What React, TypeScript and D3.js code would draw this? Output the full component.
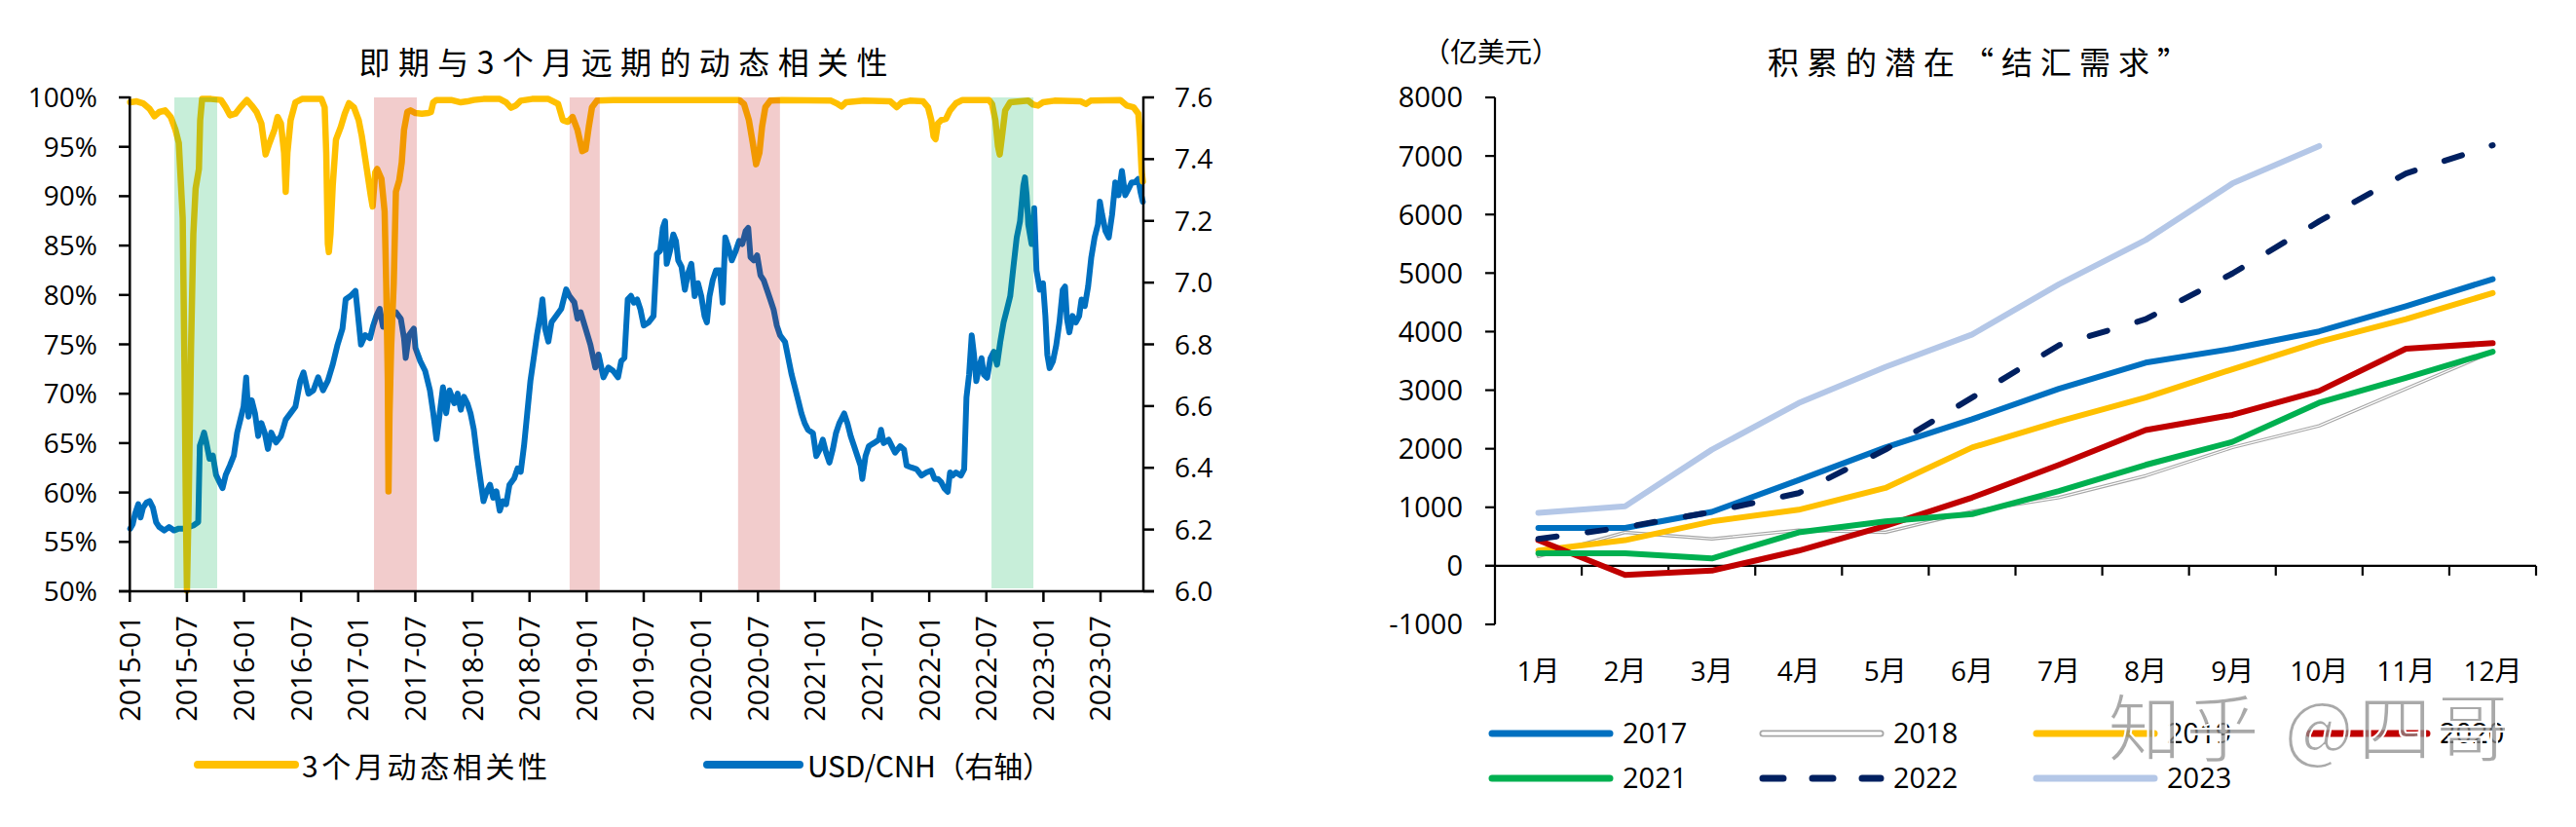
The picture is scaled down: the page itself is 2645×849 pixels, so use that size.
import React from 'react';
import * as d3 from 'd3';

// ---------- Left chart data (decimal year, value) ----------
const corrData: [number, number][] = [
  [2015.003, 99.5], [2015.06, 99.6], [2015.116, 99.4], [2015.173, 98.85], [2015.216, 98.09],
  [2015.258, 98.52], [2015.309, 98.68], [2015.358, 98.02], [2015.4, 96.7], [2015.429, 95.39],
  [2015.463, 87.8], [2015.48, 71.33], [2015.491, 58.14], [2015.5, 50.07], [2015.514, 58.14],
  [2015.536, 74.62], [2015.556, 86.16], [2015.576, 90.77], [2015.605, 92.75], [2015.616, 97.69],
  [2015.633, 99.84], [2015.712, 99.84], [2015.798, 99.74], [2015.84, 99.0], [2015.877, 98.19],
  [2015.925, 98.35], [2015.968, 99.0], [2016.025, 99.74], [2016.067, 99.18], [2016.11, 98.52],
  [2016.152, 97.36], [2016.189, 94.23], [2016.223, 95.39], [2016.266, 96.7], [2016.294, 98.02],
  [2016.323, 97.36], [2016.351, 94.4], [2016.365, 90.44], [2016.38, 94.4], [2016.408, 97.69],
  [2016.45, 99.5], [2016.507, 99.84], [2016.678, 99.84], [2016.706, 99.0], [2016.72, 94.4],
  [2016.734, 85.17], [2016.743, 84.34], [2016.757, 86.16], [2016.777, 91.1], [2016.805, 95.72],
  [2016.848, 97.03], [2016.882, 98.35], [2016.919, 99.41], [2016.962, 99.0], [2017.004, 97.69],
  [2017.032, 96.04], [2017.075, 92.75], [2017.109, 90.11], [2017.126, 88.96], [2017.149, 92.42],
  [2017.166, 92.75], [2017.203, 91.76], [2017.231, 88.46], [2017.245, 81.21], [2017.259, 71.33],
  [2017.265, 60.12], [2017.274, 68.03], [2017.288, 74.62], [2017.311, 81.21], [2017.33, 90.44],
  [2017.359, 91.6], [2017.381, 93.41], [2017.401, 96.7], [2017.43, 98.52], [2017.458, 98.68],
  [2017.501, 98.42], [2017.557, 98.35], [2017.614, 98.42], [2017.637, 98.52], [2017.657, 99.5],
  [2017.685, 99.74], [2017.813, 99.74], [2017.898, 99.5], [2017.955, 99.6], [2018.012, 99.74],
  [2018.097, 99.84], [2018.239, 99.84], [2018.295, 99.5], [2018.338, 98.95], [2018.381, 99.18],
  [2018.423, 99.67], [2018.523, 99.84], [2018.665, 99.84], [2018.75, 99.34], [2018.792, 97.69],
  [2018.835, 97.53], [2018.877, 98.02], [2018.92, 96.7], [2018.962, 94.56], [2018.991, 94.73],
  [2019.019, 97.03], [2019.047, 99.0], [2019.09, 99.67], [2019.232, 99.74], [2019.414, 99.74],
  [2020.335, 99.74], [2020.378, 99.34], [2020.421, 97.69], [2020.455, 95.38], [2020.484, 93.23],
  [2020.513, 94.39], [2020.536, 97.03], [2020.565, 99.01], [2020.608, 99.67], [2020.709, 99.74],
  [2021.14, 99.67], [2021.198, 99.34], [2021.232, 99.08], [2021.27, 99.5], [2021.428, 99.67],
  [2021.658, 99.6], [2021.716, 99.01], [2021.759, 99.5], [2021.831, 99.67], [2021.946, 99.6],
  [2021.989, 99.01], [2022.018, 97.69], [2022.038, 96.04], [2022.055, 95.78], [2022.076, 97.36],
  [2022.104, 97.69], [2022.147, 97.85], [2022.182, 98.68], [2022.234, 99.41], [2022.291, 99.74],
  [2022.522, 99.74], [2022.55, 99.34], [2022.579, 97.69], [2022.602, 95.05], [2022.617, 94.22],
  [2022.637, 96.04], [2022.665, 98.68], [2022.709, 99.5], [2022.867, 99.67], [2022.91, 99.27],
  [2022.953, 99.17], [2022.996, 99.5], [2023.097, 99.67], [2023.327, 99.6], [2023.371, 99.34],
  [2023.414, 99.67], [2023.673, 99.74], [2023.73, 99.17], [2023.788, 99.01], [2023.831, 98.35],
  [2023.845, 96.04], [2023.86, 92.5], [2023.87, 91.5],
];

const cnhData: [number, number][] = [
  [2015.003, 6.203], [2015.026, 6.218], [2015.045, 6.25], [2015.074, 6.282], [2015.094, 6.239],
  [2015.116, 6.271], [2015.145, 6.287], [2015.173, 6.292], [2015.202, 6.271], [2015.23, 6.224],
  [2015.258, 6.208], [2015.301, 6.197], [2015.343, 6.208], [2015.386, 6.197], [2015.429, 6.203],
  [2015.471, 6.203], [2015.514, 6.208], [2015.556, 6.213], [2015.599, 6.224], [2015.613, 6.472],
  [2015.633, 6.493], [2015.65, 6.514], [2015.67, 6.482], [2015.698, 6.429], [2015.727, 6.44],
  [2015.755, 6.377], [2015.783, 6.355], [2015.812, 6.334], [2015.84, 6.377], [2015.877, 6.408],
  [2015.911, 6.44], [2015.94, 6.514], [2015.968, 6.556], [2015.996, 6.598], [2016.019, 6.693],
  [2016.039, 6.566], [2016.067, 6.619], [2016.096, 6.577], [2016.124, 6.503], [2016.152, 6.545],
  [2016.181, 6.514], [2016.209, 6.461], [2016.238, 6.514], [2016.28, 6.482], [2016.323, 6.503],
  [2016.365, 6.556], [2016.408, 6.577], [2016.45, 6.598], [2016.493, 6.682], [2016.521, 6.709],
  [2016.564, 6.64], [2016.607, 6.651], [2016.649, 6.693], [2016.692, 6.651], [2016.734, 6.682],
  [2016.777, 6.735], [2016.819, 6.799], [2016.862, 6.851], [2016.89, 6.946], [2016.933, 6.957],
  [2016.976, 6.973], [2017.004, 6.872], [2017.024, 6.799], [2017.061, 6.83], [2017.103, 6.82],
  [2017.132, 6.862], [2017.16, 6.893], [2017.188, 6.915], [2017.217, 6.857], [2017.245, 6.893],
  [2017.288, 6.899], [2017.33, 6.904], [2017.373, 6.883], [2017.401, 6.82], [2017.416, 6.756],
  [2017.444, 6.83], [2017.487, 6.851], [2017.501, 6.788], [2017.543, 6.746], [2017.586, 6.714],
  [2017.628, 6.651], [2017.657, 6.577], [2017.685, 6.493], [2017.714, 6.577], [2017.742, 6.661],
  [2017.77, 6.577], [2017.799, 6.651], [2017.841, 6.609], [2017.87, 6.64], [2017.898, 6.588],
  [2017.926, 6.63], [2017.955, 6.609], [2017.983, 6.577], [2018.012, 6.524], [2018.04, 6.44],
  [2018.068, 6.366], [2018.097, 6.292], [2018.125, 6.324], [2018.154, 6.345], [2018.182, 6.303],
  [2018.21, 6.324], [2018.239, 6.261], [2018.267, 6.292], [2018.295, 6.282], [2018.324, 6.345],
  [2018.366, 6.366], [2018.395, 6.398], [2018.423, 6.387], [2018.452, 6.472], [2018.48, 6.577],
  [2018.508, 6.682], [2018.537, 6.756], [2018.565, 6.83], [2018.594, 6.893], [2018.613, 6.946],
  [2018.636, 6.851], [2018.665, 6.809], [2018.693, 6.872], [2018.735, 6.893], [2018.778, 6.915],
  [2018.821, 6.978], [2018.849, 6.957], [2018.892, 6.936], [2018.92, 6.883], [2018.948, 6.904],
  [2018.991, 6.851], [2019.033, 6.799], [2019.076, 6.725], [2019.104, 6.767], [2019.147, 6.693],
  [2019.19, 6.725], [2019.232, 6.714], [2019.275, 6.693], [2019.303, 6.746], [2019.331, 6.756],
  [2019.36, 6.946], [2019.388, 6.957], [2019.414, 6.935], [2019.443, 6.945], [2019.471, 6.913],
  [2019.5, 6.861], [2019.543, 6.871], [2019.586, 6.892], [2019.601, 6.998], [2019.615, 7.093],
  [2019.644, 7.103], [2019.667, 7.177], [2019.687, 7.199], [2019.701, 7.061], [2019.73, 7.103],
  [2019.759, 7.156], [2019.782, 7.135], [2019.802, 7.072], [2019.831, 7.051], [2019.86, 6.977],
  [2019.888, 7.03], [2019.917, 7.061], [2019.946, 6.956], [2019.975, 6.998], [2020.004, 6.956],
  [2020.032, 6.892], [2020.053, 6.871], [2020.076, 6.956], [2020.104, 7.008], [2020.133, 7.04],
  [2020.168, 7.04], [2020.191, 6.935], [2020.214, 7.146], [2020.242, 7.114], [2020.271, 7.072],
  [2020.306, 7.103], [2020.335, 7.135], [2020.363, 7.125], [2020.392, 7.167], [2020.415, 7.177],
  [2020.435, 7.082], [2020.464, 7.072], [2020.493, 7.088], [2020.522, 7.024], [2020.55, 7.008],
  [2020.579, 6.977], [2020.608, 6.945], [2020.637, 6.913], [2020.665, 6.861], [2020.694, 6.829],
  [2020.737, 6.808], [2020.766, 6.755], [2020.795, 6.702], [2020.824, 6.66], [2020.853, 6.618],
  [2020.881, 6.576], [2020.91, 6.544], [2020.939, 6.523], [2020.982, 6.512], [2021.011, 6.438],
  [2021.04, 6.459], [2021.068, 6.491], [2021.097, 6.449], [2021.126, 6.417], [2021.155, 6.459],
  [2021.183, 6.512], [2021.212, 6.544], [2021.255, 6.576], [2021.284, 6.544], [2021.313, 6.502],
  [2021.342, 6.47], [2021.371, 6.438], [2021.399, 6.407], [2021.414, 6.364], [2021.442, 6.438],
  [2021.471, 6.47], [2021.514, 6.48], [2021.558, 6.491], [2021.578, 6.523], [2021.601, 6.48],
  [2021.644, 6.491], [2021.673, 6.47], [2021.701, 6.449], [2021.745, 6.47], [2021.779, 6.459],
  [2021.802, 6.407], [2021.845, 6.401], [2021.888, 6.396], [2021.932, 6.375], [2021.975, 6.385],
  [2022.018, 6.391], [2022.047, 6.364], [2022.076, 6.364], [2022.104, 6.354], [2022.133, 6.333],
  [2022.162, 6.322], [2022.182, 6.385], [2022.205, 6.375], [2022.234, 6.385], [2022.277, 6.375],
  [2022.306, 6.396], [2022.326, 6.628], [2022.349, 6.702], [2022.372, 6.829], [2022.392, 6.766],
  [2022.412, 6.681], [2022.435, 6.723], [2022.458, 6.755], [2022.478, 6.702], [2022.507, 6.692],
  [2022.536, 6.755], [2022.565, 6.776], [2022.594, 6.734], [2022.622, 6.808], [2022.651, 6.871],
  [2022.68, 6.913], [2022.709, 6.956], [2022.737, 7.051], [2022.766, 7.146], [2022.795, 7.199],
  [2022.824, 7.315], [2022.838, 7.341], [2022.853, 7.283], [2022.867, 7.188], [2022.896, 7.125],
  [2022.919, 7.241], [2022.939, 7.04], [2022.968, 6.977], [2022.996, 6.998], [2023.017, 6.892],
  [2023.034, 6.766], [2023.054, 6.723], [2023.083, 6.745], [2023.112, 6.797], [2023.14, 6.871],
  [2023.169, 6.977], [2023.189, 6.987], [2023.206, 6.882], [2023.227, 6.839], [2023.255, 6.892],
  [2023.284, 6.871], [2023.313, 6.892], [2023.333, 6.945], [2023.362, 6.924], [2023.391, 6.987],
  [2023.419, 7.082], [2023.448, 7.146], [2023.477, 7.188], [2023.494, 7.262], [2023.514, 7.22],
  [2023.543, 7.167], [2023.572, 7.146], [2023.601, 7.22], [2023.629, 7.325], [2023.658, 7.283],
  [2023.687, 7.362], [2023.716, 7.283], [2023.745, 7.304], [2023.773, 7.325], [2023.802, 7.325],
  [2023.831, 7.336], [2023.85, 7.294], [2023.87, 7.262],
];

const greenPeriods: [number, number][] = [[2015.39, 2015.765], [2022.545, 2022.912]];
const pinkPeriods: [number, number][] = [[2017.138, 2017.513], [2018.851, 2019.115], [2020.326, 2020.693]];

const leftXTicks = [
  '2015-01', '2015-07', '2016-01', '2016-07', '2017-01', '2017-07', '2018-01', '2018-07', '2019-01',
  '2019-07', '2020-01', '2020-07', '2021-01', '2021-07', '2022-01', '2022-07', '2023-01', '2023-07',
];
const leftYTicks = [50, 55, 60, 65, 70, 75, 80, 85, 90, 95, 100];
const rightYTicks = [6.0, 6.2, 6.4, 6.6, 6.8, 7.0, 7.2, 7.4, 7.6];

// ---------- Right chart data ----------
const monthLabels = ['1月', '2月', '3月', '4月', '5月', '6月', '7月', '8月', '9月', '10月', '11月', '12月'];
const fxTicks = [-1000, 0, 1000, 2000, 3000, 4000, 5000, 6000, 7000, 8000];
const s2017 = [646, 646, 921, 1464, 2021, 2504, 3024, 3470, 3707, 4004, 4435, 4896];
const s2018 = [160, 572, 460, 609, 572, 930, 1166, 1538, 2021, 2392, 3024, 3655];
const s2019 = [260, 438, 758, 958, 1330, 2021, 2467, 2875, 3358, 3826, 4212, 4658];
const s2020 = [438, -156, -82, 260, 684, 1166, 1724, 2318, 2578, 2987, 3707, 3804];
const s2021 = [215, 215, 126, 572, 758, 884, 1278, 1724, 2117, 2786, 3210, 3655];
const s2022 = [460, 660, 921, 1241, 1984, 2875, 3767, 4212, 4993, 5884, 6701, 7184];
const s2023 = [906, 1018, 1984, 2779, 3395, 3952, 4807, 5565, 6530, 7169];

const LATIN = "'Open Sans', 'Noto Sans CJK SC', sans-serif";
const CJK = "'Noto Sans CJK SC', 'Open Sans', sans-serif";

export default function App() {
  // left chart scales
  const xL = d3.scaleLinear().domain([2015, 2023.875]).range([133.3, 1174]);
  const yL = d3.scaleLinear().domain([50, 100]).range([607, 100]);
  const yR = d3.scaleLinear().domain([6.0, 7.6]).range([607, 100]);
  const tickPos = (s: string) => {
    const [y, m] = s.split('-').map(Number);
    return xL(y + (m - 1) / 12);
  };
  const corrLine = d3.line<[number, number]>().x(d => xL(d[0])).y(d => yL(d[1]));
  const cnhLine = d3.line<[number, number]>().x(d => xL(d[0])).y(d => yR(d[1]));

  // right chart scales
  const xB = d3.scaleBand<string>().domain(monthLabels).range([1535, 2604]);
  const yF = d3.scaleLinear().domain([-1000, 8000]).range([641, 100]);
  const mkLine = (vals: number[]) =>
    d3.line<number>().x((_, i) => (xB(monthLabels[i]) as number) + xB.bandwidth() / 2).y(v => yF(v))(vals) || '';

  const series = [
    { name: '2017', vals: s2017, color: '#0070C0', width: 6 },
    { name: '2018', vals: s2018, color: '#A6A6A6', width: 3.5, inner: true },
    { name: '2019', vals: s2019, color: '#FFC000', width: 6 },
    { name: '2020', vals: s2020, color: '#C00000', width: 6 },
    { name: '2021', vals: s2021, color: '#00B050', width: 6 },
    { name: '2022', vals: s2022, color: '#002060', width: 6, dash: '19 32' },
    { name: '2023', vals: s2023, color: '#B4C7E7', width: 6 },
  ];
  const legendPos = [
    [1529, 753], [1807, 753], [2088, 753], [2368, 753],
    [1529, 799], [1807, 799], [2088, 799],
  ];

  return (
    <svg width={2645} height={849} style={{ position: 'absolute', left: 0, top: 0, display: 'block', background: '#fff' }}>
      <rect x={0} y={0} width={2645} height={849} fill="#fff" />
      {/* ================= LEFT CHART ================= */}
      <text x={640} y={62} fontFamily={CJK} fontSize={32} textAnchor="middle" dominantBaseline="central"
        textLength={543} lengthAdjust="spacing">即期与3个月远期的动态相关性</text>

      {/* lines */}
      <path d={cnhLine(cnhData) || ''} fill="none" stroke="#0070C0" strokeWidth={6} strokeLinejoin="round" strokeLinecap="round" />
      <path d={corrLine(corrData) || ''} fill="none" stroke="#FFC000" strokeWidth={6.5} strokeLinejoin="round" strokeLinecap="round" />

      {/* shaded periods (drawn on top, translucent) */}
      {greenPeriods.map((p, i) => (
        <rect key={'g' + i} x={xL(p[0])} y={100} width={xL(p[1]) - xL(p[0])} height={504}
          fill="#00B050" fillOpacity={0.22} />
      ))}
      {pinkPeriods.map((p, i) => (
        <rect key={'p' + i} x={xL(p[0])} y={100} width={xL(p[1]) - xL(p[0])} height={506}
          fill="#C00000" fillOpacity={0.2} />
      ))}

      {/* axes */}
      <g stroke="#000" strokeWidth={2.5}>
        <line x1={133.3} y1={99} x2={133.3} y2={607} />
        <line x1={1174} y1={99} x2={1174} y2={607} />
        <line x1={122} y1={607} x2={1185} y2={607} />
        {leftYTicks.map(t => <line key={'ly' + t} x1={122} x2={133.3} y1={yL(t)} y2={yL(t)} />)}
        {rightYTicks.map(t => <line key={'ry' + t} x1={1174} x2={1185} y1={yR(t)} y2={yR(t)} />)}
        {leftXTicks.map(t => <line key={'lx' + t} x1={tickPos(t)} x2={tickPos(t)} y1={607} y2={618} />)}
      </g>
      {leftYTicks.map(t => (
        <text key={'lyt' + t} x={100} y={yL(t)} dy="0.36em" textAnchor="end" fontFamily={LATIN} fontSize={28}>{t}%</text>
      ))}
      {rightYTicks.map(t => (
        <text key={'ryt' + t} x={1206} y={yR(t)} dy="0.36em" textAnchor="start" fontFamily={LATIN} fontSize={28}>{d3.format('.1f')(t)}</text>
      ))}
      {leftXTicks.map(t => (
        <text key={'lxt' + t} transform={`translate(${tickPos(t)},632) rotate(-90)`} dy="0.36em" textAnchor="end"
          fontFamily={LATIN} fontSize={29}>{t}</text>
      ))}

      {/* left legend */}
      <line x1={203} x2={303} y1={785} y2={785} stroke="#FFC000" strokeWidth={8} strokeLinecap="round" />
      <text x={310} y={785} dominantBaseline="central" fontFamily={CJK} fontSize={30} textLength={252} lengthAdjust="spacing">3个月动态相关性</text>
      <line x1={726} x2={821} y1={785} y2={785} stroke="#0070C0" strokeWidth={8} strokeLinecap="round" />
      <text x={829} y={785} dominantBaseline="central" fontFamily={CJK} fontSize={30} textLength={251} lengthAdjust="spacing">USD/CNH（右轴）</text>

      {/* ================= RIGHT CHART ================= */}
      <text x={1531} y={52} dominantBaseline="central" textAnchor="middle" fontFamily={CJK} fontSize={28}>（亿美元）</text>
      <text x={2031} y={62} dominantBaseline="central" textAnchor="middle" fontFamily={CJK} fontSize={32}
        textLength={432} lengthAdjust="spacing">积累的潜在“结汇需求”</text>

      <g stroke="#000" strokeWidth={2.2}>
        <line x1={1535} y1={100} x2={1535} y2={641} />
        <line x1={1525} y1={yF(0)} x2={2604} y2={yF(0)} />
        {fxTicks.map(t => <line key={'fy' + t} x1={1525} x2={1535} y1={yF(t)} y2={yF(t)} />)}
        {monthLabels.map(m => {
          const xx = (xB(m) as number) + xB.bandwidth();
          return <line key={'fx' + m} x1={xx} x2={xx} y1={yF(0)} y2={yF(0) + 10} />;
        })}
      </g>
      {fxTicks.map(t => (
        <text key={'fyt' + t} x={1502} y={yF(t)} dy="0.36em" textAnchor="end" fontFamily={LATIN} fontSize={29}>{t}</text>
      ))}
      {monthLabels.map(m => (
        <text key={'fxt' + m} x={(xB(m) as number) + xB.bandwidth() / 2} y={699} textAnchor="middle"
          fontFamily={LATIN} fontSize={28}>{m}</text>
      ))}

      {series.map(s => (
        <g key={'s' + s.name}>
          <path d={mkLine(s.vals)} fill="none" stroke={s.color} strokeWidth={s.width}
            strokeLinejoin="round" strokeLinecap="round" strokeDasharray={s.dash} />
          {s.inner && <path d={mkLine(s.vals)} fill="none" stroke="#fff" strokeWidth={1.2} strokeLinejoin="round" />}
        </g>
      ))}

      {/* right legend */}
      {series.map((s, i) => {
        const [lx, ly] = legendPos[i];
        return (
          <g key={'lg' + s.name}>
            <line x1={lx + 3} x2={lx + 124} y1={ly} y2={ly} stroke={s.color} strokeWidth={7}
              strokeLinecap="round" strokeDasharray={s.dash ? '21 30' : undefined} />
            {s.inner && <line x1={lx + 3} x2={lx + 124} y1={ly} y2={ly} stroke="#fff" strokeWidth={3.5} strokeLinecap="round" />}
            <text x={lx + 137} y={ly} dy="0.36em" fontFamily={LATIN} fontSize={29}>{s.name}</text>
          </g>
        );
      })}

      {/* watermark */}
      <text x={2164} y={776} fontFamily={CJK} fontSize={76} fill="#8c8c8c" fillOpacity={0.75}
        stroke="#fff" strokeWidth={2} textLength={413} lengthAdjust="spacing">知乎 @四哥</text>
    </svg>
  );
}
